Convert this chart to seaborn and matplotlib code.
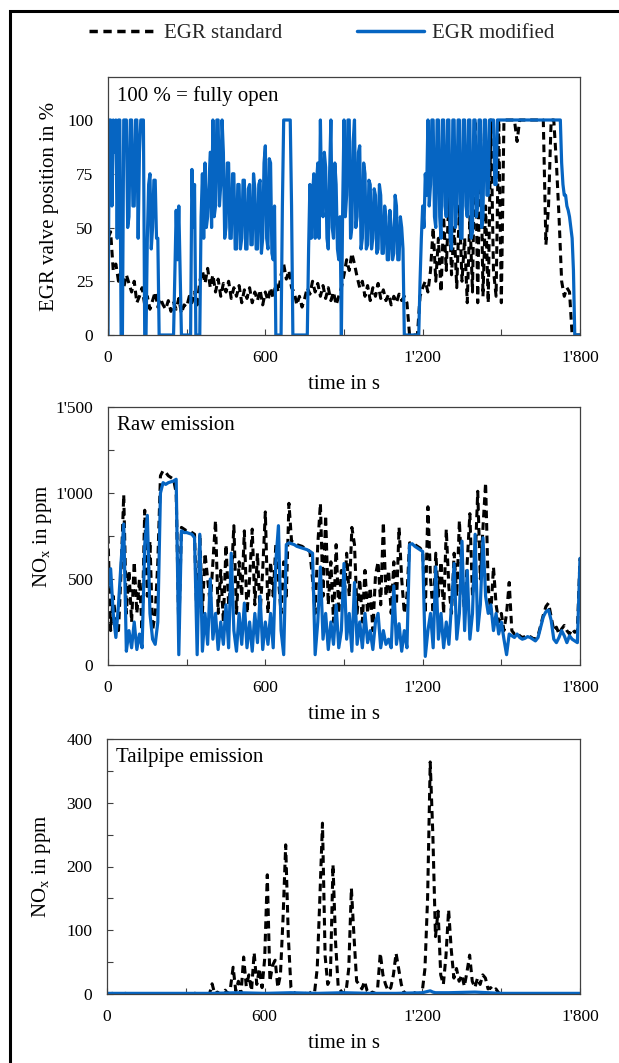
import matplotlib
matplotlib.use("Agg")
import matplotlib.pyplot as plt
import seaborn as sns
from matplotlib.lines import Line2D
from matplotlib.patches import Rectangle
from matplotlib.ticker import MultipleLocator, FixedLocator

# === DATA ===
time_s = list(range(0, 1801, 10))      # 10 s sampling
time_fine = list(range(0, 1801, 5))    # 5 s sampling for the busiest trace

# EGR valve position in %
egr_std = [
    45, 48, 30, 33, 25, 30, 22, 28, 24, 20,
    25, 15, 18, 22, 14, 18, 12, 16, 20, 13,
    17, 14, 12, 16, 11, 15, 12, 17, 10, 14,
    13, 18, 15, 20, 14, 25, 30, 24, 31, 22,
    28, 20, 26, 18, 24, 20, 25, 17, 22, 18,
    23, 15, 21, 17, 22, 15, 20, 16, 21, 14,
    20, 16, 22, 17, 24, 20, 28, 33, 26, 30,
    22, 20, 14, 18, 13, 17, 22, 19, 25, 20,
    24, 18, 23, 17, 22, 16, 20, 14, 18, 22,
    28, 35, 30, 38, 33, 27, 22, 25, 18, 23,
    16, 22, 18, 24, 17, 21, 16, 19, 14, 18,
    15, 19, 16, 18, 15, 0, 0, 0, 0, 18,
    22, 25, 20, 30, 50, 25, 45, 20, 55, 30,
    65, 28, 50, 22, 60, 25, 45, 15, 55, 20,
    100, 15, 100, 18, 60, 15, 100, 30, 18, 100,
    15, 100, 100, 100, 100, 100, 90, 100, 100, 100,
    100, 100, 100, 100, 100, 100, 100, 42, 60, 100,
    100, 80, 55, 25, 18, 22, 20, 0, 0, 0,
    0,
]
egr_mod = [  # 5 s sampling
    0, 100, 100, 60, 100, 85, 100, 45, 100, 100,
    0, 0, 100, 100, 100, 50, 55, 100, 100, 60,
    60, 100, 100, 45, 85, 100, 100, 100, 0, 0,
    45, 70, 75, 40, 50, 72, 72, 45, 45, 0,
    0, 0, 0, 0, 0, 0, 0, 0, 0, 0,
    0, 30, 58, 35, 60, 30, 0, 0, 0, 0,
    0, 0, 0, 0, 77, 50, 70, 0, 0, 0,
    0, 55, 75, 45, 80, 50, 55, 70, 85, 50,
    100, 55, 60, 100, 100, 60, 70, 100, 85, 45,
    50, 80, 80, 45, 45, 75, 75, 40, 40, 70,
    70, 40, 45, 72, 72, 40, 40, 68, 70, 42,
    42, 75, 68, 40, 40, 70, 72, 38, 45, 80,
    88, 45, 40, 82, 80, 38, 35, 60, 0, 0,
    0, 0, 0, 60, 100, 100, 100, 100, 100, 100,
    60, 0, 0, 0, 0, 0, 0, 0, 0, 0,
    0, 0, 0, 40, 70, 45, 65, 75, 45, 70,
    80, 45, 100, 60, 55, 85, 78, 45, 40, 75,
    100, 50, 45, 80, 70, 40, 35, 55, 0, 60,
    100, 55, 65, 100, 100, 45, 50, 90, 100, 50,
    55, 85, 88, 40, 45, 80, 75, 40, 42, 72,
    70, 40, 45, 68, 65, 38, 40, 70, 65, 38,
    38, 60, 55, 35, 35, 58, 50, 35, 38, 65,
    60, 35, 35, 55, 50, 40, 0, 0, 0, 0,
    0, 0, 0, 0, 0, 0, 0, 0, 25, 45,
    60, 50, 75, 65, 100, 60, 70, 100, 100, 55,
    50, 100, 100, 55, 45, 100, 100, 60, 55, 100,
    100, 45, 40, 100, 100, 50, 60, 100, 100, 45,
    45, 100, 100, 60, 55, 100, 100, 45, 48, 100,
    100, 55, 60, 100, 100, 50, 55, 100, 100, 65,
    65, 100, 100, 100, 100, 70, 70, 100, 100, 100,
    100, 100, 100, 100, 100, 100, 100, 100, 100, 100,
    100, 100, 100, 100, 100, 100, 100, 100, 100, 100,
    100, 100, 100, 100, 100, 100, 100, 100, 100, 100,
    100, 100, 100, 100, 100, 100, 100, 100, 100, 100,
    100, 100, 100, 100, 100, 100, 80, 70, 65, 65,
    60, 58, 55, 50, 45, 30, 0, 0, 0, 0,
    0,
]

# Raw NOx emission in ppm
nox_raw_std = [
    750, 200, 400, 250, 200, 550, 990, 300, 550, 250,
    600, 300, 500, 200, 900, 400, 720, 200, 300, 600,
    1100, 1130, 1120, 1100, 1090, 1080, 1000, 200, 800, 790,
    780, 780, 770, 760, 200, 760, 300, 650, 500, 350,
    600, 840, 300, 550, 250, 700, 350, 500, 810, 300,
    600, 400, 780, 300, 500, 790, 350, 650, 300, 550,
    890, 300, 600, 400, 700, 500, 300, 600, 400, 940,
    720, 710, 700, 695, 690, 680, 670, 660, 500, 300,
    700, 940, 400, 870, 350, 600, 250, 700, 300, 550,
    350, 650, 400, 800, 700, 300, 500, 250, 550, 300,
    450, 200, 520, 600, 350, 830, 400, 550, 300, 600,
    350, 800, 500, 300, 400, 710, 710, 700, 690, 680,
    660, 300, 920, 500, 300, 650, 400, 600, 300, 790,
    450, 300, 650, 400, 840, 500, 300, 600, 880, 400,
    600, 1010, 500, 800, 1060, 450, 300, 570, 350, 250,
    300, 200, 300, 480, 200, 180, 190, 170, 160, 165,
    170, 165, 155, 150, 170, 230, 290, 340, 360, 280,
    200, 220, 180, 210, 230, 200, 180, 210, 190, 200,
    620,
]
nox_raw_mod = [
    450, 560, 300, 160, 350, 600, 820, 80, 200, 100,
    250, 90, 180, 100, 700, 870, 300, 150, 120, 250,
    1000, 1060, 1050, 1060, 1065, 1070, 1080, 60, 780, 770,
    770, 765, 760, 740, 60, 760, 80, 300, 120, 500,
    150, 300, 90, 250, 120, 350, 100, 650, 200, 80,
    300, 120, 360, 100, 250, 80, 300, 130, 400, 90,
    250, 120, 300, 100, 600, 810, 200, 60, 700, 710,
    705, 700, 690, 685, 680, 675, 670, 660, 650, 60,
    250, 570, 150, 300, 90, 250, 120, 350, 100, 200,
    590, 150, 300, 80, 480, 120, 250, 100, 300, 130,
    200, 90, 250, 300, 100, 200, 120, 150, 100, 460,
    120, 240, 80, 200, 100, 700, 705, 690, 680, 670,
    660, 50, 200, 300, 100, 570, 150, 300, 100, 250,
    120, 350, 590, 150, 300, 720, 200, 550, 150, 300,
    760, 200, 350, 740, 400, 300, 350, 200, 300, 180,
    250, 150, 60, 180, 170, 160, 180, 160, 150, 155,
    165, 160, 150, 140, 160, 220, 280, 310, 320, 260,
    150, 130, 160, 200, 170, 130, 170, 150, 140, 130,
    620,
]

# Tailpipe NOx emission in ppm
nox_tail_std = [
    0, 0, 1, 0, 0, 0, 0, 1, 0, 0,
    0, 0, 0, 0, 0, 0, 0, 0, 0, 0,
    0, 0, 0, 0, 0, 0, 0, 0, 0, 0,
    0, 0, 0, 2, 0, 0, 0, 0, 0, 0,
    16, 0, 3, 0, 0, 6, 0, 10, 42, 5,
    20, 0, 58, 12, 30, 5, 65, 15, 40, 10,
    55, 187, 20, 45, 53, 10, 30, 120, 234, 90,
    10, 3, 0, 0, 0, 2, 0, 0, 5, 3,
    40, 150, 268, 60, 15, 25, 203, 80, 10, 5,
    0, 5, 40, 166, 90, 20, 15, 8, 20, 5,
    0, 3, 0, 10, 64, 30, 15, 5, 10, 30,
    64, 40, 15, 3, 0, 0, 0, 2, 0, 0,
    5, 40, 150, 364, 250, 90, 130, 30, 15, 60,
    132, 70, 25, 40, 20, 30, 12, 35, 61, 20,
    10, 25, 15, 30, 25, 8, 10, 5, 8, 2,
    0, 0, 0, 0, 0, 0, 0, 0, 0, 0,
    0, 0, 0, 0, 0, 0, 0, 0, 0, 0,
    0, 0, 0, 0, 0, 0, 0, 0, 0, 0,
    0,
]
tail_mod_time = [0, 100, 200, 300, 400, 500, 600, 700, 800, 900, 1000, 1100,
                 1200, 1230, 1240, 1250, 1300, 1400, 1450, 1500, 1600, 1700, 1800]
nox_tail_mod = [1, 1, 1, 1, 1, 2, 1, 2, 1, 2, 1, 1,
                2, 5, 3, 2, 2, 3, 2, 1, 1, 1, 1]

x_ticks = [0, 600, 1200, 1800]
x_ticklabels = ["0", "600", "1'200", "1'800"]

# === STYLE ===
sns.set_theme(style="white")
plt.rcParams['font.family'] = ['Liberation Serif', 'DejaVu Serif']
plt.rcParams['mathtext.fontset'] = 'custom'
plt.rcParams['mathtext.rm'] = 'Liberation Serif'
plt.rcParams['mathtext.it'] = 'Liberation Serif:italic'

BLUE = '#0665C2'
DASH = (0, (2.5, 1.6))

W, H = 619, 1063
fig = plt.figure(figsize=(W / 100, H / 100), dpi=100)


def make_axes(left, top, right, bottom):
    return fig.add_axes([left / W, 1 - bottom / H, (right - left) / W, (bottom - top) / H])


ax1 = make_axes(108, 77, 580, 335)
ax2 = make_axes(108, 407, 580, 665)
ax3 = make_axes(107, 739, 580, 994)

panels = [
    (ax1, time_s, egr_std, time_fine, egr_mod, (0, 120), [0, 25, 50, 75, 100], ["0", "25", "50", "75", "100"], None,
     "EGR valve position in %", "100 % = fully open", -0.104),
    (ax2, time_s, nox_raw_std, time_s, nox_raw_mod, (0, 1500), [0, 500, 1000, 1500], ["0", "500", "1'000", "1'500"], 250,
     r"NO$_\mathregular{x}$ in ppm", "Raw emission", -0.114),
    (ax3, time_s, nox_tail_std, tail_mod_time, nox_tail_mod, (0, 400), [0, 100, 200, 300, 400], ["0", "100", "200", "300", "400"], 50,
     r"NO$_\mathregular{x}$ in ppm", "Tailpipe emission", -0.114),
]

for ax, t_std, y_std, t_mod, y_mod, ylim, yt, ytl, yminor, ylab, note, ylab_x in panels:
    sns.lineplot(x=t_std, y=y_std, ax=ax, color='black', linewidth=2.2, linestyle=DASH, errorbar=None)
    sns.lineplot(x=t_mod, y=y_mod, ax=ax, color=BLUE, linewidth=2.3, errorbar=None)
    ax.set_xlim(0, 1800)
    ax.set_ylim(*ylim)
    ax.xaxis.set_major_locator(FixedLocator(x_ticks))
    ax.set_xticklabels(x_ticklabels)
    ax.xaxis.set_minor_locator(MultipleLocator(300))
    ax.yaxis.set_major_locator(FixedLocator(yt))
    ax.set_yticklabels(ytl)
    if yminor:
        ax.yaxis.set_minor_locator(MultipleLocator(yminor))
    ax.tick_params(axis='both', which='both', direction='in', length=4, width=0.8,
                   color='#404040', labelsize=12.5, labelcolor='black', pad=10.5)
    ax.tick_params(axis='both', which='both', top=False, right=False, bottom=True, left=True)
    for sp in ax.spines.values():
        sp.set_color('#404040')
        sp.set_linewidth(0.9)
    ax.set_xlabel("time in s", fontsize=15, color='black', labelpad=7)
    ax.set_ylabel(ylab, fontsize=15, color='black')
    ax.yaxis.set_label_coords(ylab_x, 0.5)
    ax.text(0.02, 0.965, note, transform=ax.transAxes, ha='left', va='top', fontsize=15, color='black')

# figure-level legend
handles = [Line2D([], [], color='black', linewidth=2.5, linestyle=(0, (2.4, 1.6))),
           Line2D([], [], color=BLUE, linewidth=2.5)]
fig.legend(handles, ["EGR standard", "EGR modified"], loc='center', bbox_to_anchor=(322 / W, 1 - 33 / H),
           ncol=2, frameon=False, fontsize=15, handlelength=3.2, handletextpad=0.4, columnspacing=3.6)

# outer frame (top and left edges visible)
fig.add_artist(Rectangle((10 / W, -0.05), 1.2, 1 - 11 / H + 0.05, transform=fig.transFigure,
                         fill=False, edgecolor='black', linewidth=2.2))

fig.savefig("out.png", dpi=100)
